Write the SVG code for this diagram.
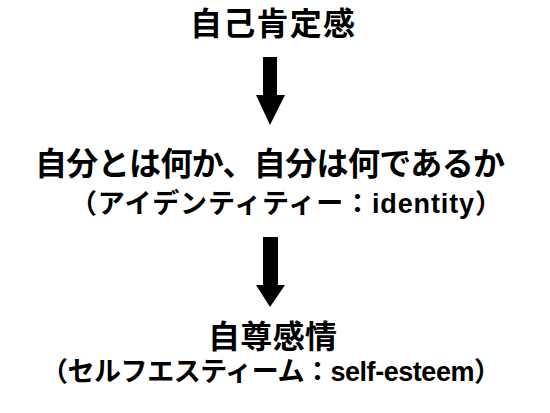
<svg xmlns="http://www.w3.org/2000/svg" width="550" height="413" viewBox="0 0 550 413">
<style>
text{font-family:"Liberation Sans","Noto Sans CJK JP",sans-serif;font-weight:bold;fill:#000;text-anchor:middle}
.big{font-size:32px}
.sub{font-size:27px}
.arr{fill:#000}
</style>
<rect width="550" height="413" fill="#fff"/>
<g id="node-jikokoteikan">
<text class="big" x="272.5" y="35" textLength="165" lengthAdjust="spacing">自己肯定感</text>
</g>
<g id="node-identity">
<text class="big" x="270" y="175" textLength="470" lengthAdjust="spacing">自分とは何か、自分は何であるか</text>
<text class="sub" x="286" y="213" textLength="432" lengthAdjust="spacing">（アイデンティティー：identity）</text>
</g>
<g id="node-selfesteem">
<text class="big" x="272.5" y="348" textLength="129" lengthAdjust="spacing">自尊感情</text>
<text class="sub" x="271" y="381" textLength="460" lengthAdjust="spacing">（セルフエスティーム：self-esteem）</text>
</g>
<g id="connectors">
<polygon class="arr" points="263,57 277,57 277,95 285,95 270,125 256,95 263,95"/>
<polygon class="arr" points="263,237 278,237 278,285 285,285 270,307 256,285 263,285"/>
</g>
</svg>
